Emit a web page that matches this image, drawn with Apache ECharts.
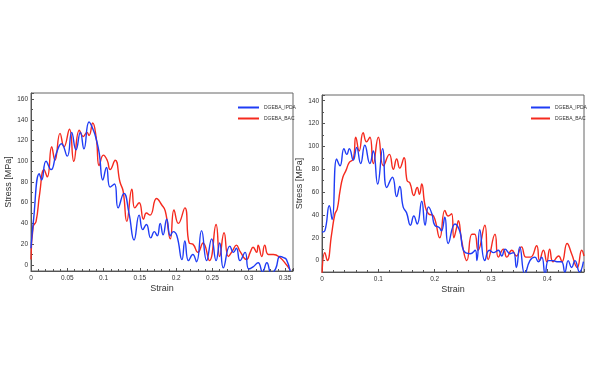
<!DOCTYPE html>
<html><head><meta charset="utf-8">
<script src="https://cdn.jsdelivr.net/npm/echarts@6/dist/echarts.min.js"></script>
<style>html,body{margin:0;padding:0;background:#fff}#c{width:600px;height:380px}</style>
</head><body><div id="c"></div>
<script>
// Left panel
const leftBlueStrain = [0,0.003,0.0115,0.0147,0.0207,0.0276,0.035,0.042,0.05,0.056,0.062,0.068,0.073,0.080,0.086,0.090,0.094,0.099,0.104,0.109,0.115,0.120,0.128,0.135,0.142,0.149,0.154,0.159,0.165,0.170,0.174,0.178,0.182,0.187,0.192,0.196,0.201,0.208,0.212,0.217,0.223,0.228,0.235,0.242,0.249,0.255,0.260,0.265,0.274,0.279,0.283,0.288,0.295,0.300,0.306,0.313,0.319,0.325,0.331,0.337,0.343,0.348,0.352,0.357];
const leftBlueStress = [16,40,88,82,100,92,108,117,105,128,111,128,112,138,130,121,108,82,94,75,78,55,69,50,24,48,34,39,26,32,28,40,29,44,28,32,28,5,23,4,10,3,33,4,25,4,21,-3,18,12,16,4,12,-4,-2,2,-7,2,-8,-4,8,7,5,-6];
const leftRedStrain = [0,0.003,0.007,0.012,0.018,0.0225,0.0285,0.033,0.040,0.0455,0.053,0.059,0.0666,0.072,0.077,0.080,0.085,0.090,0.094,0.0997,0.105,0.109,0.116,0.1226,0.127,0.132,0.139,0.143,0.149,0.155,0.159,0.164,0.173,0.180,0.185,0.192,0.197,0.203,0.212,0.218,0.223,0.230,0.237,0.246,0.255,0.260,0.266,0.272,0.278,0.283,0.288,0.297,0.302,0.306,0.311,0.313,0.318,0.322,0.327,0.334,0.343,0.352,0.357];
const leftRedStress = [5,37,42,69,92,85,114,101,127,114,131,100,130,124,128,125,137,122,96,106,101,92,101,80,71,42,73,55,60,44,50,48,64,58,52,25,53,40,55,21,20,12,21,4,39,8,31,8,14,19,13,5,12,17,12,19,8,19,10,10,7,0,-5];
// Right panel
const rightBlueStrain = [0,0.005,0.013,0.018,0.026,0.032,0.039,0.044,0.0485,0.0556,0.0615,0.0686,0.076,0.085,0.091,0.0988,0.1077,0.115,0.125,0.1325,0.138,0.144,0.150,0.157,0.163,0.169,0.177,0.183,0.189,0.195,0.200,0.208,0.212,0.218,0.224,0.236,0.245,0.251,0.263,0.272,0.275,0.280,0.289,0.297,0.305,0.313,0.319,0.325,0.334,0.340,0.345,0.351,0.360,0.369,0.378,0.384,0.390,0.396,0.402,0.410,0.417,0.425,0.431,0.437,0.443,0.449,0.457,0.464];
const rightBlueStress = [25,26,48,36,89,83,98,93,98,88,99,85,101,85,96,67,98,64,73,56,65,47,42,31,39,32,52,31,47,41,31,29,26,38,15,32,25,9,6,9,0,27,0,9,7,9,4,10,6,7,-6,12,-12,0,3,-1,3,-12,0,0,-1,-1,-10,0,-6,0,-10,-1];
const rightRedStrain = [0,0.005,0.0095,0.017,0.023,0.027,0.032,0.037,0.0426,0.0485,0.0556,0.060,0.066,0.073,0.079,0.085,0.091,0.100,0.109,0.1195,0.1266,0.1325,0.138,0.1456,0.151,0.156,0.163,0.169,0.173,0.177,0.183,0.189,0.198,0.209,0.218,0.224,0.230,0.234,0.239,0.242,0.248,0.257,0.266,0.271,0.277,0.289,0.295,0.307,0.313,0.322,0.328,0.337,0.345,0.354,0.362,0.370,0.381,0.386,0.393,0.399,0.404,0.410,0.420,0.426,0.435,0.443,0.453,0.461,0.465];
const rightRedStress = [-12,7,0,23,41,45,61,73,79,86,89,108,96,112,104,108,85,108,83,93,80,89,81,90,70,68,57,64,58,67,48,41,39,20,44,39,41,20,29,35,17,0,23,23,9,31,1,23,3,10,3,9,4,12,3,3,13,0,9,-1,10,-1,4,-1,15,6,-6,9,4];
const seriesNames = ['DGEBA_IPDA','DGEBA_BAC'];
const leftXTicks = ['0','0.05','0.1','0.15','0.2','0.25','0.3','0.35'];
const rightXTicks = ['0','0.1','0.2','0.3','0.4'];
const yTicksLeft = [0,20,40,60,80,100,120,140,160];
const yTicksRight = [0,20,40,60,80,100,120,140];

const zip = (a,b) => a.map((v,i)=>[v,b[i]]);
const BLUE = '#1f3cf5', RED = '#f52a1e';
const axisCol = '#555';
const fmtX = list => v => {
  const s = String(+v.toFixed(3));
  return list.indexOf(s) >= 0 ? s : '';
};
const fmtY = list => v => {
  const r = Math.round(v);
  return (Math.abs(v-r)<1e-6 && list.indexOf(r) >= 0) ? String(r) : '';
};
function xAxis(gi, max, splitN, ticks){
  return {type:'value', gridIndex:gi, min:0, max:max, splitNumber:splitN,
    name:'Strain', nameLocation:'middle', nameGap:13,
    nameTextStyle:{fontSize:9, color:'#333', fontFamily:'Liberation Sans'},
    axisLine:{show:true, onZero:false, lineStyle:{color:axisCol, width:1}},
    axisTick:{show:true, inside:true, length:3, lineStyle:{color:axisCol}},
    minorTick:{show:true, splitNumber:5, length:2, lineStyle:{color:axisCol}},
    axisLabel:{fontSize:6.5, color:'#333', margin:4, fontFamily:'Liberation Sans', formatter:fmtX(ticks), showMaxLabel:false},
    splitLine:{show:false}};
}
function yAxis(gi, min, max, splitN, ticks){
  return {type:'value', gridIndex:gi, min:min, max:max, splitNumber:splitN,
    name:'Stress [MPa]', nameLocation:'middle', nameGap:17,
    nameTextStyle:{fontSize:9, color:'#333', fontFamily:'Liberation Sans'},
    axisLine:{show:true, onZero:false, lineStyle:{color:axisCol, width:1}},
    axisTick:{show:true, inside:true, length:3, lineStyle:{color:axisCol}},
    minorTick:{show:true, splitNumber:2, length:2, lineStyle:{color:axisCol}},
    axisLabel:{fontSize:6.5, color:'#333', margin:3, fontFamily:'Liberation Sans', formatter:fmtY(ticks)},
    splitLine:{show:false}};
}
function line(name, data, color, gi){
  return {type:'line', name:name, xAxisIndex:gi, yAxisIndex:gi, data:data, smooth:0.5,
    showSymbol:false, symbol:'none', clip:true, lineStyle:{color:color, width:1.4}, itemStyle:{color:color}};
}
const legendBase = {orient:'vertical', itemHeight:2, itemGap:6, icon:'rect', selectedMode:false,
  data:[seriesNames[0],seriesNames[1]], textStyle:{fontSize:5, color:'#333', fontFamily:'Liberation Sans'}};
const chart = echarts.init(document.getElementById('c'), null, {renderer:'canvas'});
chart.setOption({
  animation:false,
  backgroundColor:'#fff',
  grid:[
    {left:31, top:93, right:307, bottom:109, show:true, borderColor:'#666', borderWidth:1},
    {left:322, top:95, right:16, bottom:108, show:true, borderColor:'#666', borderWidth:1}
  ],
  legend:[
    Object.assign({left:233, top:100, itemWidth:21}, legendBase),
    Object.assign({left:526, top:100, itemWidth:19}, legendBase)
  ],
  xAxis:[xAxis(0,0.361,7,leftXTicks), xAxis(1,0.465,5,rightXTicks)],
  yAxis:[yAxis(0,-6,166,8,yTicksLeft), yAxis(1,-10,145,7,yTicksRight)],
  series:[
    line(seriesNames[1], zip(leftRedStrain,leftRedStress), RED, 0),
    line(seriesNames[0], zip(leftBlueStrain,leftBlueStress), BLUE, 0),
    line(seriesNames[1], zip(rightRedStrain,rightRedStress), RED, 1),
    line(seriesNames[0], zip(rightBlueStrain,rightBlueStress), BLUE, 1)
  ]
});
</script></body></html>
